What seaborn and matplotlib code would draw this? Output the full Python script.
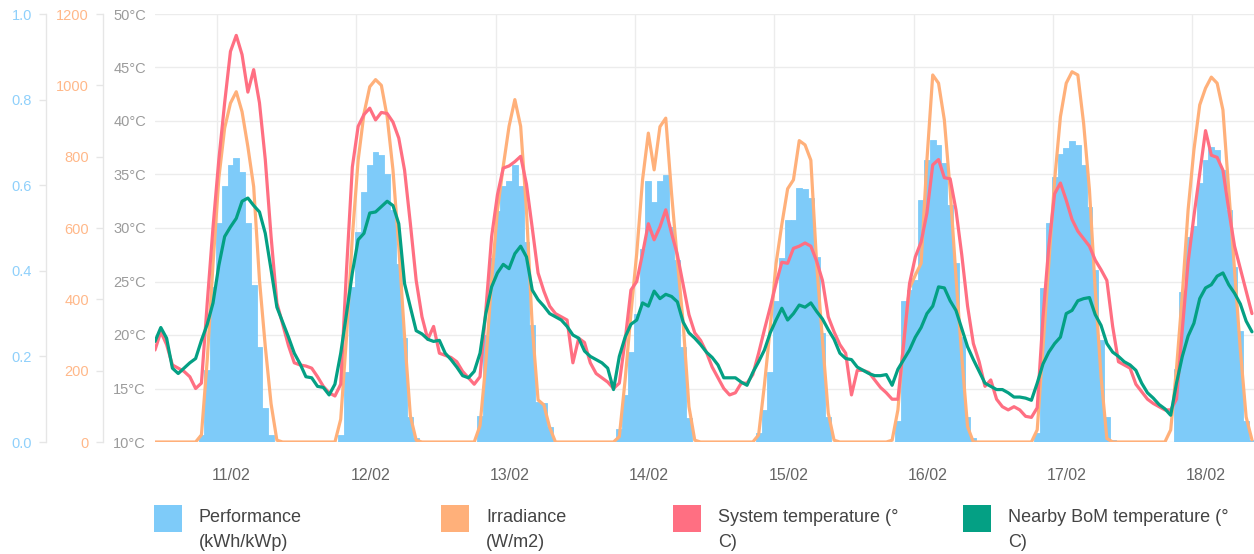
"""
Solar system week view: hourly performance bars with irradiance,
system temperature and nearby BoM temperature lines, 11/02 - 18/02.
Writes out.png (1254x554).
"""

import numpy as np
import matplotlib
matplotlib.use("Agg")
import matplotlib.pyplot as plt
import seaborn as sns
from matplotlib.patches import Rectangle

# ---------------------------------------------------------------------------
# Data (hourly, one row per day, first point is 23:00 the evening before)
# ---------------------------------------------------------------------------
dates = ["11/02", "12/02", "13/02", "14/02", "15/02", "16/02", "17/02", "18/02"]

performance = (
    [0, 0, 0, 0, 0, 0, 0, 0, 0.017, 0.168, 0.363, 0.511, 0.598, 0.647, 0.663, 0.632, 0.511, 0.367, 0.223, 0.079, 0.017, 0, 0, 0]
    + [0, 0, 0, 0, 0, 0, 0, 0, 0.017, 0.164, 0.363, 0.491, 0.585, 0.647, 0.678, 0.670, 0.626, 0.542, 0.417, 0.242, 0.059, 0.009, 0, 0]
    + [0, 0, 0, 0, 0, 0, 0, 0, 0.06, 0.25, 0.43, 0.54, 0.597, 0.61, 0.647, 0.597, 0.468, 0.273, 0.094, 0.090, 0.036, 0, 0, 0]
    + [0, 0, 0, 0, 0, 0, 0, 0, 0.03, 0.11, 0.21, 0.30, 0.45, 0.61, 0.56, 0.61, 0.625, 0.503, 0.426, 0.223, 0.055, 0, 0, 0]
    + [0, 0, 0, 0, 0, 0, 0, 0, 0.02, 0.075, 0.164, 0.33, 0.43, 0.519, 0.519, 0.593, 0.59, 0.57, 0.433, 0.255, 0.058, 0, 0, 0]
    + [0, 0, 0, 0, 0, 0, 0, 0, 0.05, 0.33, 0.355, 0.379, 0.565, 0.659, 0.706, 0.694, 0.651, 0.554, 0.418, 0.246, 0.059, 0.009, 0, 0]
    + [0, 0, 0, 0, 0, 0, 0, 0, 0.02, 0.359, 0.511, 0.62, 0.674, 0.686, 0.704, 0.694, 0.647, 0.55, 0.402, 0.238, 0.059, 0.005, 0, 0]
    + [0, 0, 0, 0, 0, 0, 0, 0, 0.17, 0.35, 0.48, 0.505, 0.605, 0.66, 0.69, 0.682, 0.636, 0.542, 0.41, 0.26, 0.05, 0.005]
)

irradiance = (
    [0, 0, 0, 0, 0, 0, 0, 0, 20, 230, 500, 740, 880, 950, 982, 926, 828, 716, 454, 268, 107, 5, 0, 0]
    + [0, 0, 0, 0, 0, 0, 0, 0, 64, 295, 575, 790, 920, 996, 1016, 1000, 912, 763, 548, 295, 73, 5, 0, 0]
    + [0, 0, 0, 0, 0, 0, 0, 0, 46, 221, 454, 650, 773, 885, 960, 885, 650, 323, 118, 104, 41, 0, 0, 0]
    + [0, 0, 0, 0, 0, 0, 0, 0, 15, 174, 360, 529, 735, 866, 763, 884, 908, 697, 510, 333, 99, 5, 0, 0]
    + [0, 0, 0, 0, 0, 0, 0, 0, 20, 160, 320, 500, 610, 710, 735, 845, 833, 790, 500, 286, 81, 5, 0, 0]
    + [0, 0, 0, 0, 0, 0, 0, 5, 90, 286, 431, 468, 501, 791, 1029, 1006, 903, 707, 464, 240, 43, 0, 0, 0]
    + [0, 0, 0, 0, 0, 0, 0, 0, 34, 267, 501, 734, 912, 1006, 1038, 1029, 893, 707, 426, 183, 10, 0, 0, 0]
    + [0, 0, 0, 0, 0, 0, 0, 34, 206, 413, 651, 819, 945, 992, 1023, 1006, 931, 707, 482, 258, 70, 6]
)

system_temp = (
    [18.6, 20.3, 19.1, 17.2, 16.9, 16.6, 16.1, 15.0, 15.5, 23.0, 30.1, 36.4, 41.7, 46.5, 48.0, 46.2, 42.7, 44.8, 41.7, 36.4, 29.2, 23.0, 21.0, 19.0]
    + [17.4, 17.2, 17.1, 16.9, 16.1, 15.2, 14.6, 14.3, 15.4, 26.1, 35.7, 39.5, 40.6, 41.2, 40.1, 40.8, 40.7, 39.9, 38.4, 35.4, 30.4, 25.1, 21.7, 19.6]
    + [20.8, 18.3, 18.1, 17.9, 17.5, 16.6, 16.0, 15.4, 16.1, 22.3, 29.2, 33.1, 35.6, 35.8, 36.2, 36.7, 34.1, 30.0, 25.8, 24.1, 22.7, 22.0, 21.7, 21.4]
    + [17.4, 19.7, 19.3, 17.4, 16.4, 16.0, 15.6, 15.0, 15.5, 19.5, 24.2, 25.0, 27.6, 30.4, 28.9, 30.1, 31.7, 29.5, 27.5, 24.7, 21.9, 20.2, 19.5, 18.4]
    + [17.0, 16.0, 15.0, 14.4, 14.6, 15.5, 15.5, 16.3, 18.3, 20.5, 22.6, 24.8, 26.8, 26.7, 28.1, 28.3, 28.6, 28.3, 26.9, 25.1, 21.7, 20.3, 19.1, 18.3]
    + [14.4, 16.7, 16.7, 16.5, 15.8, 15.1, 14.6, 14.0, 14.0, 19.2, 24.8, 27.3, 28.7, 31.4, 35.9, 36.4, 34.7, 34.6, 31.7, 27.5, 22.7, 19.2, 17.5, 15.2]
    + [15.8, 14.0, 13.3, 13.0, 13.3, 13.0, 12.4, 12.3, 13.2, 21.7, 28.3, 33.2, 34.2, 32.6, 30.8, 29.7, 29.0, 28.3, 27.0, 26.1, 25.1, 20.8, 17.5, 17.2]
    + [16.9, 15.4, 14.7, 14.0, 13.6, 13.3, 13.0, 13.0, 14.0, 20.5, 26.8, 31.1, 35.1, 39.1, 36.8, 36.6, 35.4, 31.7, 28.3, 26.2, 24.1, 22.0]
)

bom_temp = (
    [19.4, 20.7, 19.7, 16.9, 16.4, 16.9, 17.4, 17.8, 19.5, 21.0, 23.0, 26.5, 29.2, 30.1, 30.9, 32.5, 32.8, 32.1, 31.5, 29.5, 26.1, 22.6, 21.2, 19.8]
    + [18.3, 17.3, 16.1, 16.0, 15.2, 15.1, 14.4, 15.4, 18.3, 22.0, 25.8, 28.9, 29.5, 31.4, 31.5, 32.0, 32.5, 32.1, 30.4, 24.8, 22.6, 20.4, 20.1, 19.6]
    + [19.4, 19.5, 18.3, 17.7, 17.0, 16.2, 16.0, 16.6, 18.3, 22.0, 24.5, 25.8, 26.6, 26.2, 27.6, 28.3, 27.3, 24.2, 23.3, 22.7, 22.0, 21.7, 21.4, 20.8]
    + [20.0, 19.7, 18.5, 18.0, 17.7, 17.4, 16.9, 14.9, 18.0, 19.8, 21.0, 21.4, 23.0, 22.7, 24.1, 23.4, 23.8, 23.6, 23.1, 21.2, 20.2, 19.7, 19.1, 18.4]
    + [17.9, 17.2, 16.0, 16.0, 16.0, 15.6, 15.3, 16.5, 17.5, 18.6, 20.2, 21.4, 22.5, 21.4, 22.0, 22.8, 22.6, 23.0, 22.2, 21.5, 20.5, 19.6, 18.3, 17.8]
    + [17.7, 17.0, 16.7, 16.4, 16.2, 16.2, 16.3, 15.3, 16.8, 17.7, 18.6, 19.8, 20.7, 22.0, 22.7, 24.5, 24.4, 23.2, 22.3, 20.6, 18.9, 17.7, 16.6, 15.5]
    + [15.2, 14.9, 14.9, 14.6, 14.2, 14.2, 14.1, 13.9, 15.5, 17.3, 18.4, 19.2, 19.8, 22.0, 22.3, 23.2, 23.4, 23.5, 21.9, 20.9, 19.2, 18.4, 18.0, 17.5]
    + [17.2, 16.7, 15.5, 14.6, 14.1, 13.5, 13.1, 12.5, 15.5, 18.0, 19.9, 21.1, 23.4, 24.4, 24.7, 25.5, 25.8, 24.7, 23.9, 22.9, 21.3, 20.3]
)

legend_labels = [
    ("Performance", "(kWh/kWp)"),
    ("Irradiance", "(W/m2)"),
    ("System temperature (°", "C)"),
    ("Nearby BoM temperature (°", "C)"),
]

# colours
BLUE = "#7ecbf9"
ORANGE = "#ffb07a"
RED = "#ff6f82"
GREEN = "#04a084"
GRID = "#ececec"

hours = np.arange(len(performance))

# figure geometry in pixels
W, H = 1254, 554
left, right, top, bottom = 155, 1254, 14, 442


def fx(px):
    return px / W


def fy(py):
    return 1 - py / H


sns.set_theme(style="white")
plt.rcParams["font.family"] = ["Liberation Sans", "DejaVu Sans"]

fig = plt.figure(figsize=(W / 100, H / 100), dpi=100)
ax = fig.add_axes([fx(left), fy(bottom), fx(right) - fx(left), fy(top) - fy(bottom)])
ax_perf = ax.twinx()
ax_irr = ax.twinx()
ax_temp = ax.twinx()
for z, a in enumerate([ax, ax_perf, ax_irr, ax_temp]):
    a.set_zorder(z)
for a in [ax_perf, ax_irr, ax_temp]:
    a.patch.set_visible(False)

# performance bars
sns.barplot(x=hours, y=performance, native_scale=True, width=1.0, color=BLUE,
            saturation=1, errorbar=None, edgecolor=BLUE, linewidth=0.6, ax=ax_perf)

# irradiance line
sns.lineplot(x=hours, y=irradiance, color=ORANGE, linewidth=2.3, ax=ax_irr)

# temperatures
sns.lineplot(x=hours, y=system_temp, color=RED, linewidth=2.3, ax=ax_temp)
sns.lineplot(x=hours, y=bom_temp, color=GREEN, linewidth=2.3, ax=ax_temp)

# x axis
x_max = (right - left) / 5.804
ax.set_xlim(0, x_max)
label_pos = [13.1 + 24 * k for k in range(len(dates))]
grid_pos = [10.7 + 24 * k for k in range(len(dates))]
ax.set_xticks(label_pos)
ax.set_xticklabels(dates)
ax.set_xticks(grid_pos, minor=True)
ax.tick_params(axis="x", which="both", length=0)
ax.tick_params(axis="x", which="major", pad=19, labelsize=11.5, labelcolor="#666666")
ax.grid(False, which="major", axis="x")
ax.grid(True, which="minor", axis="x", color=GRID, linewidth=1)

# temperature axis (grid owner)
ax.set_ylim(10, 50)
temp_ticks = list(range(10, 51, 5))
ax.set_yticks(temp_ticks)
ax.set_yticklabels([f"{t}°C" for t in temp_ticks])
ax.tick_params(axis="y", length=0, pad=6.5, labelsize=10.5, labelcolor="#9b9b9b")
ax.grid(True, which="major", axis="y", color=GRID, linewidth=1)
for s in ax.spines.values():
    s.set_visible(False)

ax_temp.set_ylim(10, 50)
ax_temp.axis("off")


def left_axis(a, pos_px, ticks, labels, color):
    a.yaxis.set_ticks_position("left")
    a.yaxis.set_label_position("left")
    for name, s in a.spines.items():
        s.set_visible(name == "left")
    a.spines["left"].set_position(("axes", (pos_px - left) / (right - left)))
    a.spines["left"].set_color("#e6e6e6")
    a.spines["left"].set_linewidth(1)
    a.set_yticks(ticks)
    a.set_yticklabels(labels)
    a.tick_params(axis="y", length=5, width=1, color="#e6e6e6", pad=5,
                  labelsize=10.5, labelcolor=color)
    a.set_ylabel("")
    a.set_xlabel("")


perf_ticks = [0, 0.2, 0.4, 0.6, 0.8, 1.0]
ax_perf.set_ylim(0, 1.0)
left_axis(ax_perf, 46, perf_ticks, [f"{t:.1f}" for t in perf_ticks], "#8fd0fb")

irr_ticks = list(range(0, 1201, 200))
ax_irr.set_ylim(0, 1200)
left_axis(ax_irr, 103, irr_ticks, [str(t) for t in irr_ticks], "#ffb889")

ax.set_xlim(0, x_max)
ax.set_xlabel("")

# legend drawn in figure pixels
legend_x = [154, 441, 673, 963]
for x0, color, (line1, line2) in zip(legend_x, [BLUE, ORANGE, RED, GREEN], legend_labels):
    fig.add_artist(Rectangle((fx(x0), fy(532)), 28 / W, 27 / H,
                             transform=fig.transFigure, facecolor=color, edgecolor="none"))
    fig.text(fx(x0 + 45), fy(522), line1, fontsize=13, color="#444444", va="baseline")
    fig.text(fx(x0 + 45), fy(547), line2, fontsize=13, color="#444444", va="baseline")

fig.savefig("out.png", dpi=100)
plt.close(fig)
